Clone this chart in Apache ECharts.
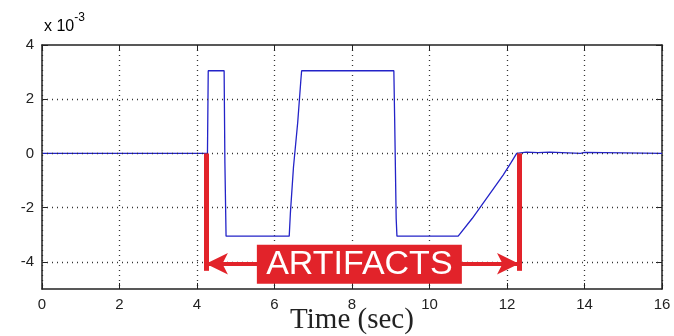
<!DOCTYPE html>
<html>
<head>
<meta charset="utf-8">
<script src="https://cdn.jsdelivr.net/npm/echarts@6/dist/echarts.min.js"></script>
<style>
  html, body { margin: 0; padding: 0; background: #fff; }
  #chart { width: 674px; height: 336px; }
</style>
</head>
<body>
<div id="chart"></div>
<script>
// signal (time in sec, value in 1e-3 units)
const timeSec = [0, 1.15, 1.2, 1.25, 4.27, 4.29, 4.7, 4.72, 4.75, 6.38, 6.41, 6.49, 6.6, 6.68, 6.7,
  9.08, 9.1, 9.14, 9.16, 10.74, 11.1, 11.5, 11.9, 12.1, 12.25, 12.5, 12.8, 13.1, 13.9, 13.95, 14.0, 14.05, 16]
const signal = [0, 0, 0.03, 0, 0, 3.05, 3.05, -0.35, -3.05, -3.05, -2.2, -0.5, 1.16, 2.7, 3.05,
  3.05, 1.35, -2.4, -3.05, -3.05, -2.4, -1.6, -0.8, -0.35, 0, 0.05, 0.03, 0.05, 0, -0.06, 0.04, 0, 0]

const yTicks = [-4, -2, 0, 2, 4]
const yGrid = [-4, -2, 0, 2]

// annotation: artifact bounds
const artifactStart = 4.23
const artifactEnd = 12.31
const barTop = 0
const barBottom = -4.33
const arrowY = -4.07
const boxCenter = [8.19, -4.09]
const boxText = 'ARTIFACTS'

const chart = echarts.init(document.getElementById('chart'))
const red = '#e2232a'
const tickFont = { fontFamily: 'Liberation Sans', fontSize: 15, color: '#222' }
const frameLine = { show: true, onZero: false, lineStyle: { color: '#222', width: 1.5 } }
const tickIn = { show: true, inside: true, length: 6, lineStyle: { color: '#222' } }

const option = {
  backgroundColor: '#fff',
  animation: false,
  grid: { left: 42, right: 12, top: 45, bottom: 47, outerBoundsMode: 'none', containLabel: false },
  graphic: [{
    type: 'text',
    left: 44,
    top: 12,
    style: {
      text: '{a|x 10}{b|-3}',
      rich: {
        a: { fontFamily: 'Liberation Sans', fontSize: 16, color: '#222', padding: [10, 0, 0, 0] },
        b: { fontFamily: 'Liberation Sans', fontSize: 12, color: '#222', padding: [0, 0, 8, 0] }
      }
    }
  }],
  xAxis: [{
    type: 'value',
    min: 0,
    max: 16,
    interval: 2,
    name: 'Time (sec)',
    nameLocation: 'middle',
    nameGap: 17,
    nameMoveOverlap: false,
    nameTextStyle: { fontFamily: 'Liberation Serif', fontSize: 29, color: '#222' },
    axisLine: frameLine,
    axisTick: tickIn,
    axisLabel: Object.assign({ margin: 8 }, tickFont),
    splitLine: { show: true, lineStyle: { color: '#333', type: [1, 4], width: 1.3 } }
  }, {
    type: 'value',
    position: 'top',
    min: 0,
    max: 16,
    interval: 2,
    axisLine: frameLine,
    axisTick: tickIn,
    axisLabel: { show: false },
    splitLine: { show: false }
  }],
  yAxis: [{
    type: 'value',
    min: -5,
    max: 4,
    interval: 1,
    axisLine: frameLine,
    axisTick: Object.assign({ customValues: yTicks }, tickIn),
    axisLabel: Object.assign({ margin: 8, customValues: yTicks }, tickFont),
    splitLine: { show: false }
  }, {
    type: 'value',
    position: 'right',
    min: -5,
    max: 4,
    interval: 1,
    axisLine: frameLine,
    axisTick: Object.assign({ customValues: yTicks }, tickIn),
    axisLabel: { show: false },
    splitLine: { show: false }
  }],
  series: [
    {
      // horizontal dotted grid lines
      type: 'line',
      data: [],
      silent: true,
      markLine: {
        silent: true,
        symbol: 'none',
        label: { show: false },
        lineStyle: { color: '#333', type: [1, 4], width: 1.3 },
        data: yGrid.map(v => ({ yAxis: v }))
      }
    },
    {
      name: 'signal',
      type: 'line',
      data: timeSec.map((t, i) => [t, signal[i]]),
      showSymbol: false,
      lineStyle: { color: '#2323c8', width: 1.3 },
      z: 3
    },
    {
      // red annotation
      type: 'line',
      data: [],
      silent: true,
      z: 5,
      markLine: {
        silent: true,
        symbol: 'none',
        label: { show: false },
        lineStyle: { color: red, width: 5, type: 'solid' },
        data: [
          [{ coord: [artifactStart, barTop] }, { coord: [artifactStart, barBottom] }],
          [{ coord: [artifactEnd, barTop] }, { coord: [artifactEnd, barBottom] }],
          [{ coord: [artifactStart, arrowY], symbol: 'arrow', symbolSize: [16, 22] },
           { coord: [artifactEnd, arrowY], symbol: 'arrow', symbolSize: [16, 22], lineStyle: { width: 4 } }]
        ]
      },
      markPoint: {
        silent: true,
        symbol: 'rect',
        symbolSize: [205, 39],
        itemStyle: { color: red },
        label: {
          show: true,
          position: 'inside',
          formatter: boxText,
          color: '#fff',
          fontFamily: 'Liberation Sans',
          fontSize: 34
        },
        data: [{ coord: boxCenter }]
      }
    }
  ]
}

chart.setOption(option)
</script>
</body>
</html>
